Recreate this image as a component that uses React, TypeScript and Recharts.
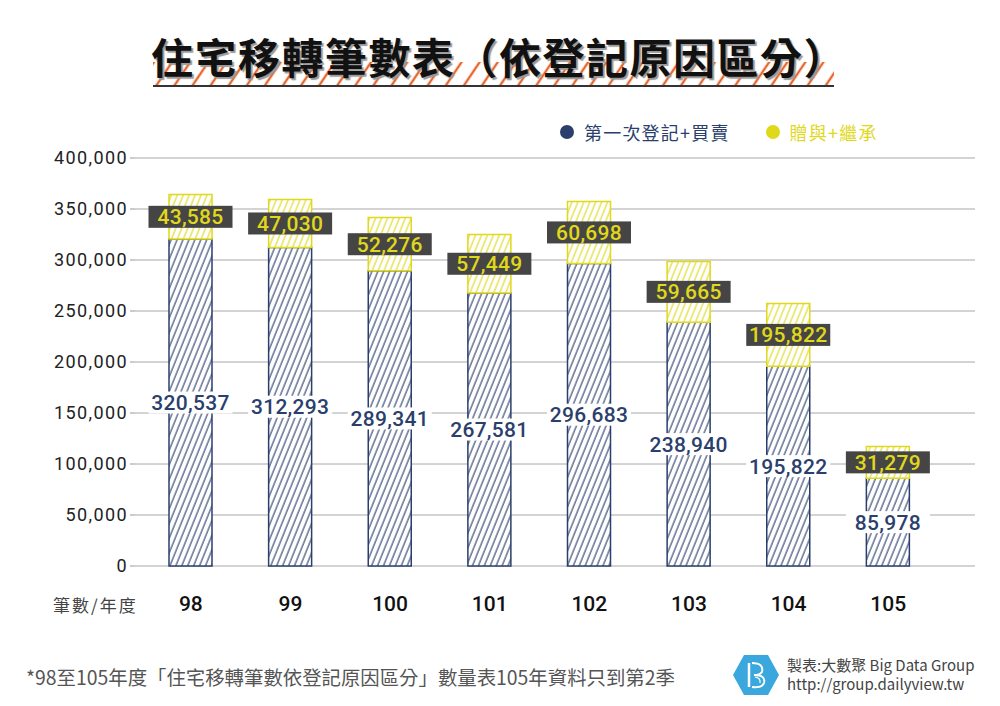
import { Bar, BarChart, CartesianGrid, LabelList, XAxis, YAxis } from "recharts";

const years = ["98", "99", "100", "101", "102", "103", "104", "105"];
const firstAndSale = [320537, 312293, 289341, 267581, 296683, 238940, 195822, 85978];
const giftAndInherit = [43585, 47030, 52276, 57449, 60698, 59665, 61500, 31279];
// 104 label in the source reads 195,822 (kept as printed)
const giftLabels = ["43,585", "47,030", "52,276", "57,449", "60,698", "59,665", "195,822", "31,279"];
const yTicks = [0, 50000, 100000, 150000, 200000, 250000, 300000, 350000, 400000];
const legendItems = ["第一次登記+買賣", "贈與+繼承"];

const NAVY = "#2b3f6d";
const YELLOW = "#e0d81a";
const NUM_FONT = "Roboto, 'Noto Sans', sans-serif";
const CJK_FONT = "'Noto Sans CJK TC', 'Noto Sans', sans-serif";

const data = years.map((year, i) => ({
  year,
  first: firstAndSale[i],
  gift: giftAndInherit[i],
  giftLabel: giftLabels[i],
}));

function fmt(v: number) {
  return v.toLocaleString("en-US");
}

function FirstLabel(props: any) {
  const { x, y, width, height, value } = props;
  const cx = Number(x) + Number(width) / 2;
  const cy = Number(y) + Number(height) / 2;
  return (
    <g>
      <rect x={cx - 42} y={cy - 11} width={84} height={22} fill="#fff" />
      <text
        x={cx}
        y={cy}
        dy="0.36em"
        textAnchor="middle"
        fill={NAVY}
        fontSize={21}
        fontWeight={500}
        letterSpacing={0.3}
        fontFamily={NUM_FONT}
      >
        {fmt(Number(value))}
      </text>
    </g>
  );
}

function GiftLabel(props: any) {
  const { x, y, width, height, value } = props;
  const cx = Number(x) + Number(width) / 2;
  const cy = Number(y) + Number(height) / 2;
  return (
    <g>
      <rect x={cx - 42} y={cy - 11} width={84} height={22} fill="#454545" />
      <text
        x={cx}
        y={cy}
        dy="0.36em"
        textAnchor="middle"
        fill={YELLOW}
        fontSize={21}
        fontWeight={500}
        letterSpacing={0.3}
        fontFamily={NUM_FONT}
      >
        {value}
      </text>
    </g>
  );
}

function Logo() {
  return (
    <svg width={46} height={40} viewBox="0 0 46 40">
      <polygon points="11,0 35,0 46,20 35,40 11,40 0,20" fill="#3aa8dc" />
      <path d="M16 8 V32" stroke="#fff" strokeWidth={2.5} />
      <path d="M19 8 Q31 8 29 17 Q27 20 21 20 Q33 20 31 28 Q29 33 19 32" stroke="#fff" strokeWidth={2} fill="none" />
      <path d="M22 22 Q28 23 27 28" stroke="#fff" strokeWidth={1.2} fill="none" />
    </svg>
  );
}

export default function App() {
  const legendColors = [NAVY, YELLOW];
  return (
    <div
      style={{
        position: "fixed",
        left: 0,
        top: 0,
        width: 1000,
        height: 706,
        background: "#fff",
        overflow: "hidden",
      }}
    >
      {/* title with orange hatched band */}
      <svg style={{ position: "absolute", left: 153, top: 60 }} width={681} height={28}>
        <defs>
          <pattern id="titleHatch" width={15} height={15} patternUnits="userSpaceOnUse" patternTransform="rotate(34)">
            <line x1={2} y1={0} x2={2} y2={15} stroke="#e8672e" strokeWidth={2.4} />
          </pattern>
        </defs>
        <rect x={0} y={2} width={681} height={23} fill="url(#titleHatch)" />
        <line x1={0} y1={26} x2={681} y2={26} stroke="#333" strokeWidth={2} />
      </svg>
      <div
        style={{
          position: "absolute",
          left: 151,
          top: 31,
          height: 50,
          lineHeight: "50px",
          fontSize: 42,
          fontWeight: 700,
          letterSpacing: 1.5,
          whiteSpace: "nowrap",
          color: "#111",
          fontFamily: CJK_FONT,
          textShadow: "2px 2px 1px #999",
        }}
      >
        住宅移轉筆數表（依登記原因區分）
      </div>

      {/* legend */}
      <div
        style={{
          position: "absolute",
          left: 560,
          top: 119,
          display: "flex",
          alignItems: "center",
          fontFamily: CJK_FONT,
          fontSize: 18,
          letterSpacing: 1.2,
          lineHeight: "26px",
        }}
      >
        {legendItems.map((name, i) => (
          <div
            key={name}
            style={{ display: "flex", alignItems: "center", marginRight: 36, color: legendColors[i] }}
          >
            <span
              style={{
                width: 14,
                height: 14,
                borderRadius: 7,
                background: legendColors[i],
                display: "inline-block",
                marginRight: 10,
              }}
            />
            {name}
          </div>
        ))}
      </div>

      <BarChart
        width={1000}
        height={706}
        data={data}
        margin={{ top: 158, right: 25, bottom: 100, left: 0 }}
        style={{ position: "absolute", left: 0, top: 0, fontFamily: NUM_FONT }}
      >
        <defs>
          <pattern id="navyHatch" width={5.5} height={10} patternUnits="userSpaceOnUse" patternTransform="rotate(22)">
            <rect width={5.5} height={10} fill="#fff" />
            <line x1={1} y1={0} x2={1} y2={10} stroke={NAVY} strokeWidth={1.1} />
          </pattern>
          <pattern id="yellowHatch" width={5.5} height={10} patternUnits="userSpaceOnUse" patternTransform="rotate(22)">
            <rect width={5.5} height={10} fill="#fff" />
            <line x1={1} y1={0} x2={1} y2={10} stroke={YELLOW} strokeWidth={1.1} />
          </pattern>
        </defs>
        <CartesianGrid vertical={false} stroke="#a8a8a8" />
        <XAxis
          dataKey="year"
          height={40}
          axisLine={false}
          tickLine={false}
          tickMargin={24}
          padding={{ left: 6, right: 37 }}
          tick={{ fontSize: 21, fontWeight: 500, fill: "#111" }}
        />
        <YAxis
          width={135}
          domain={[0, 400000]}
          ticks={yTicks}
          tickFormatter={fmt}
          axisLine={false}
          tickSize={5}
          tickMargin={2}
          tickLine={{ stroke: "#999" }}
          tick={{ fontSize: 18, fontWeight: 400, fill: "#222", letterSpacing: 1.4 }}
        />
        <Bar
          dataKey="first"
          name="第一次登記+買賣"
          stackId="a"
          barSize={43}
          fill="url(#navyHatch)"
          stroke={NAVY}
          strokeWidth={1.5}
          isAnimationActive={false}
        >
          <LabelList dataKey="first" content={FirstLabel} />
        </Bar>
        <Bar
          dataKey="gift"
          name="贈與+繼承"
          stackId="a"
          barSize={43}
          fill="url(#yellowHatch)"
          stroke={YELLOW}
          strokeWidth={1.5}
          isAnimationActive={false}
        >
          <LabelList dataKey="giftLabel" content={GiftLabel} />
        </Bar>
      </BarChart>

      <div
        style={{
          position: "absolute",
          left: 53,
          top: 593,
          fontSize: 17,
          letterSpacing: 2,
          color: "#444",
          fontFamily: CJK_FONT,
          lineHeight: "24px",
          whiteSpace: "nowrap",
        }}
      >
        筆數/年度
      </div>

      <div
        style={{
          position: "absolute",
          left: 26,
          top: 664,
          fontSize: 19.4,
          color: "#555",
          fontFamily: CJK_FONT,
          lineHeight: "26px",
          whiteSpace: "nowrap",
        }}
      >
        *98至105年度「住宅移轉筆數依登記原因區分」數量表105年資料只到第2季
      </div>

      <div style={{ position: "absolute", left: 733, top: 655 }}>
        <Logo />
      </div>
      <div
        style={{
          position: "absolute",
          left: 787,
          top: 655,
          fontSize: 15,
          lineHeight: "19px",
          color: "#444",
          fontFamily: CJK_FONT,
          whiteSpace: "nowrap",
        }}
      >
        <div>製表:大數聚 Big Data Group</div>
        <div>http://group.dailyview.tw</div>
      </div>
    </div>
  );
}
